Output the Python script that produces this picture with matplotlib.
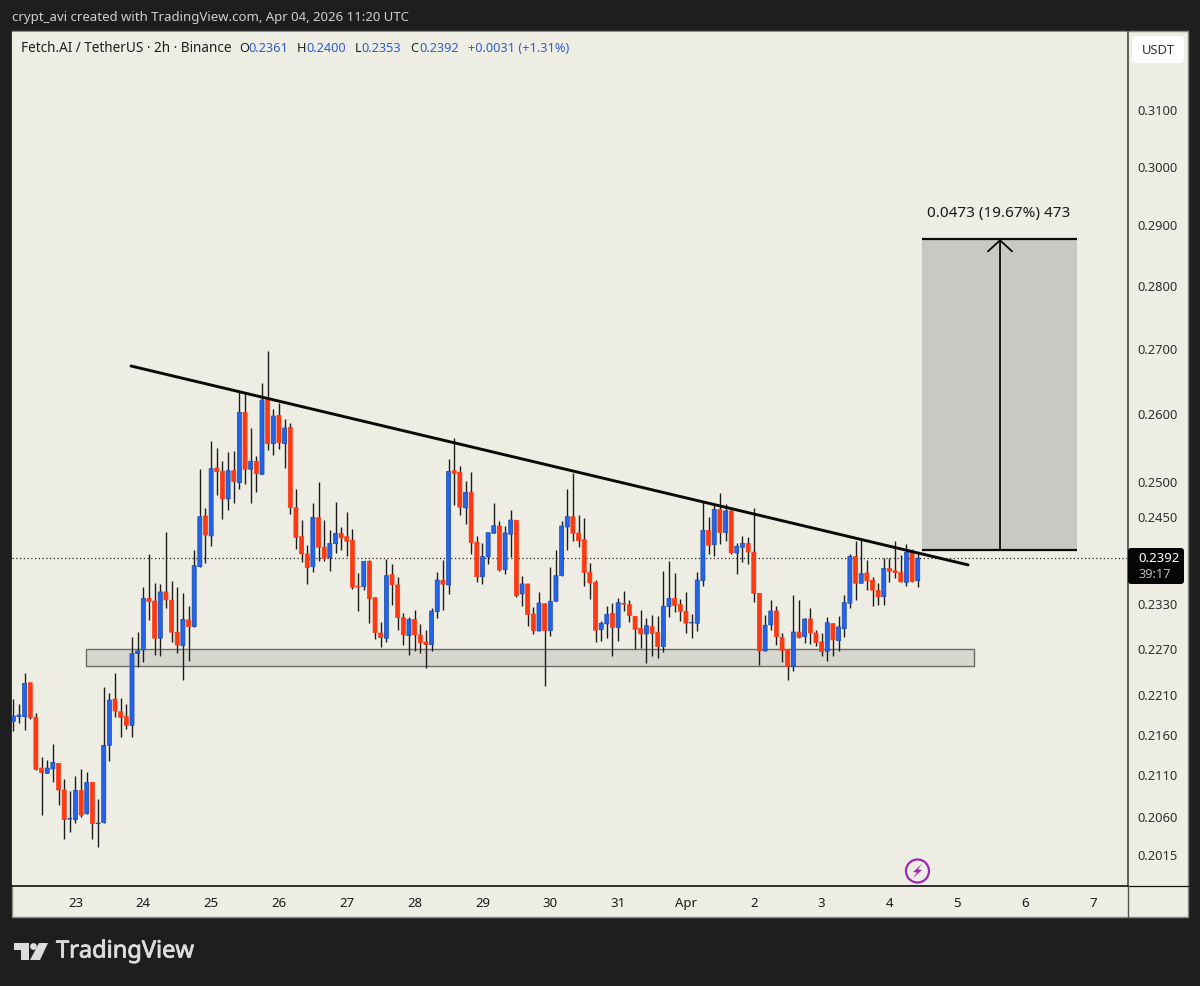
import matplotlib
matplotlib.use("Agg")
import matplotlib.pyplot as plt
import matplotlib.patheffects as pe
from matplotlib.patches import Rectangle, Circle, Polygon, FancyBboxPatch

# FET/USDT 2h candles
opens = [.21767,.21825,.21825,.22258,.21817,.21187,.21121,.21175,.21244,.20919,.20570,.20563,.20915,.20634,.21012,.20515,
         .20527,.21467,.22050,.21888,.21825,.21716,.22635,.22684,.23372,.23336,.22838,.23458,.23349,.22917,.22740,.23081,
         .22992,.23803,.24512,.24230,.25202,.25154,.24754,.25163,.24989,.26027,.25183,.25300,.25109,.26213,.25558,.25982,
         .25558,.25802,.24630,.24220,.23979,.23803,.24488,.24072,.23924,.24122,.24268,.24220,.24170,.23536,.23531,.23878,
         .23381,.22908,.22838,.23694,.23553,.23112,.22872,.23090,.22882,.22789,.22754,.23192,.23617,.23553,.25163,.25140,
         .24626,.24850,.24142,.23666,.23937,.24268,.24370,.23762,.24254,.24451,.23431,.23567,.23161,.22935,.23299,.22939,
         .23332,.23680,.24356,.24502,.24272,.24178,.23726,.23590,.22952,.23028,.23171,.22979,.23305,.23286,.23130,.22970,
         .22895,.22992,.22912,.22728,.23260,.23372,.23286,.23197,.23041,.23037,.23611,.24310,.24108,.24607,.24276,.24583,
         .23993,.24072,.24127,.24006,.23440,.22671,.23014,.23201,.22851,.22684,.22466,.22921,.22859,.23094,.22908,.22789,
         .22667,.23032,.22806,.22965,.23305,.23947,.23576,.23717,.23617,.23476,.23394,.23781,.23748,.23726,.23590,.24011,
         .2361]
highs = [.22046,.21986,.22380,.22258,.21876,.21326,.21285,.21483,.21244,.21048,.20911,.21089,.21171,.21138,.21012,.20814,
         .22207,.22130,.22380,.22063,.21983,.22851,.22925,.23530,.23979,.23584,.23563,.24286,.23607,.23530,.23448,.23268,
         .24034,.25183,.24621,.25594,.25499,.25309,.25436,.25455,.26354,.26324,.25792,.25377,.26467,.26971,.26077,.26163,
         .25931,.25862,.24893,.24455,.24100,.24693,.24995,.24455,.24310,.24707,.24352,.24564,.24324,.23721,.23878,.23896,
         .23381,.23058,.23914,.23841,.23658,.23179,.23117,.23211,.23028,.22948,.23246,.23731,.23896,.25329,.25638,.25231,
         .25013,.25140,.24230,.24136,.24276,.24693,.24437,.24374,.24597,.24451,.23680,.23567,.23251,.23454,.23305,.23795,
         .24034,.24441,.24893,.25125,.24526,.24479,.23850,.23625,.23063,.23272,.23309,.23372,.23471,.23349,.23130,.23215,
         .23108,.23144,.23139,.23744,.23878,.23713,.23367,.23454,.23157,.23726,.24730,.24493,.24668,.24835,.24683,.24621,
         .24127,.24234,.24220,.24621,.23440,.23148,.23349,.23268,.22904,.22684,.23421,.23349,.23112,.23242,.22948,.22904,
         .23117,.23045,.23135,.23421,.23979,.24164,.24192,.23896,.23666,.23576,.23924,.23928,.24160,.23968,.24118,.24044,
         .2400]
lows = [.21642,.21749,.21658,.21792,.21162,.20618,.21121,.21019,.20738,.20337,.20420,.20520,.20598,.20634,.20337,.20243,
        .20527,.21273,.21825,.21567,.21667,.21567,.22458,.22527,.23081,.22618,.22609,.23246,.22793,.22641,.22293,.22544,
        .22992,.23803,.23859,.24090,.24811,.24473,.24597,.24702,.24893,.24970,.24702,.24854,.25109,.25465,.25396,.25475,
        .25198,.24536,.24048,.23873,.23563,.23735,.23886,.23886,.23748,.23996,.24034,.23951,.23503,.23206,.23485,.23045,
        .22824,.22728,.22785,.23282,.22948,.22745,.22618,.22675,.22641,.22445,.22675,.23112,.23215,.23427,.24673,.24526,
        .24395,.23979,.23598,.23563,.23837,.24268,.23748,.23703,.23933,.23394,.23272,.23001,.22895,.22935,.22220,.22872,
        .23332,.23680,.24034,.24164,.24080,.23539,.23367,.22793,.22802,.22846,.22609,.22802,.23206,.23050,.22693,.22706,
        .22518,.22609,.22575,.22654,.23125,.23184,.23063,.22904,.22842,.22939,.23539,.23979,.23951,.24118,.24164,.23979,
        .23699,.23873,.23841,.23326,.22484,.22671,.22948,.22749,.22531,.22293,.22414,.22846,.22780,.22763,.22736,.22606,
        .22536,.22609,.22675,.22859,.23246,.23349,.23576,.23485,.23268,.23282,.23282,.23598,.23653,.23594,.23539,.23598,
        .2353]
closes = [.21834,.21847,.22251,.21812,.21171,.21129,.21187,.21257,.20919,.20563,.20579,.20915,.20618,.21012,.20515,.20523,
          .21467,.22037,.21897,.21817,.21716,.22635,.22671,.23372,.23326,.22838,.23458,.23349,.22917,.22749,.23090,.22992,
          .23817,.24502,.24244,.25192,.25148,.24754,.25163,.25003,.26027,.25183,.25300,.25119,.26213,.25558,.25971,.25573,
          .25792,.24630,.24206,.23979,.23790,.24493,.24072,.23920,.24127,.24268,.24202,.24156,.23522,.23526,.23878,.23367,
          .22912,.22846,.23680,.23553,.23112,.22882,.23090,.22882,.22780,.22754,.23201,.23621,.23563,.25154,.25119,.24636,
          .24850,.24136,.23666,.23941,.24276,.24374,.23758,.24272,.24455,.23407,.23567,.23152,.22939,.23309,.22939,.23332,
          .23680,.24370,.24502,.24268,.24164,.23726,.23580,.22944,.23037,.23157,.22979,.23313,.23291,.23139,.22957,.22895,
          .23005,.22904,.22728,.23265,.23372,.23272,.23197,.23037,.23050,.23621,.24310,.24100,.24607,.24276,.24583,.23993,
          .24086,.24127,.24006,.23440,.22671,.23010,.23201,.22859,.22675,.22466,.22921,.22846,.23094,.22908,.22780,.22662,
          .23045,.22815,.22988,.23313,.23947,.23576,.23708,.23611,.23481,.23390,.23781,.23740,.23721,.23594,.24002,.23598,
          .2392]

price_ticks = [.3100,.3000,.2900,.2800,.2700,.2600,.2500,.2450,.2330,.2270,.2210,.2160,.2110,.2060,.2015]
price_tick_labels = ["0.3100","0.3000","0.2900","0.2800","0.2700","0.2600","0.2500","0.2450",
                     "0.2330","0.2270","0.2210","0.2160","0.2110","0.2060","0.2015"]
day_ticks = [11,23,35,47,59,71,83,95,107,119,131,143,155,167,179,191]
day_labels = ["23","24","25","26","27","28","29","30","31","Apr","2","3","4","5","6","7"]

last_price = .2392
trend_x = [20.82, 168.9]
trend_y = [.26733, .23828]
zone_x = [12.86, 169.96]
zone_y = [.22479, .22697]
measure_x = [160.76, 188.18]
measure_y = [.2404, .2877]
measure_mid = 174.56

BG = "#1e1e1e"
PANEL = "#edede4"
BLUE = "#2563e8"
BLUE_EDGE = "#1b4aa8"
RED = "#fb3a14"
WICK = "#1c1c1c"
FONT = "Noto Sans"
plt.rcParams["font.family"] = FONT

W, H = 1200, 986
fig = plt.figure(figsize=(W/100, H/100), dpi=100, facecolor=BG)

# pixel-space layer behind the chart for the panel frame
back = fig.add_axes([0, 0, 1, 1], zorder=0)
back.set_xlim(0, W)
back.set_ylim(H, 0)
back.axis("off")
back.add_patch(Rectangle((12, 31), 1176, 886, fc=PANEL, ec="#8a8a82", lw=1))

ax = fig.add_axes([12/W, 1-886/H, (1128-12)/W, (886-32)/H], zorder=1)
ax.set_facecolor(PANEL)
ax.set_yscale("log")
ax.set_xlim(-0.23, 197.2)
ax.set_ylim(.19789, .3243)

# zone and measure box under the candles
ax.fill_between(zone_x, zone_y[0], zone_y[1], fc="#d7d7d0", ec="#6c6c66", lw=1, zorder=1)
ax.fill_between(measure_x, measure_y[0], measure_y[1], fc="#c8c9c3", lw=0, zorder=1)

xs = list(range(len(opens)))
for i in xs:
    up = closes[i] >= opens[i]
    ax.vlines(i, lows[i], highs[i], color=WICK, lw=1.0, zorder=2)
    bottom = min(opens[i], closes[i])
    ax.bar(i, abs(closes[i]-opens[i]), bottom=bottom, width=0.72,
           color=BLUE if up else RED, edgecolor=BLUE_EDGE if up else RED, lw=0.5, zorder=3, snap=False)

ax.axhline(last_price, color="#222222", lw=0.9, ls=(0, (1, 2)), zorder=2)
ax.plot(trend_x, trend_y, color="#0a0a0a", lw=2.1, zorder=4, solid_capstyle="round")

ax.hlines(measure_y, measure_x[0], measure_x[1], color="#0a0a0a", lw=1.6, zorder=4)
ax.annotate("", xy=(measure_mid, measure_y[1]), xytext=(measure_mid, measure_y[0]), zorder=4,
            arrowprops=dict(arrowstyle="->,head_length=0.57,head_width=0.62", mutation_scale=14,
                            color="#0a0a0a", lw=1.3, shrinkA=0, shrinkB=0))

ax.yaxis.tick_right()
ax.set_yticks(price_ticks, price_tick_labels)
ax.minorticks_off()
ax.set_xticks(day_ticks, day_labels)
ax.tick_params(axis="y", length=0, pad=7, labelsize=9.3, labelcolor="#2f2f2f")
ax.tick_params(axis="x", length=0, pad=8, labelsize=9.5, labelcolor="#1a1a1a")
for lab in ax.get_xticklabels():
    if lab.get_text() == "Apr":
        lab.set_fontweight("bold")
for side in ["top", "left"]:
    ax.spines[side].set_visible(False)
ax.spines["right"].set_color("#55554f")
ax.spines["right"].set_linewidth(1.3)
ax.spines["bottom"].set_color("#111111")
ax.spines["bottom"].set_linewidth(1.2)

# pixel-space layer on top: texts, labels, logo
top = fig.add_axes([0, 0, 1, 1], zorder=2)
top.set_xlim(0, W)
top.set_ylim(H, 0)
top.axis("off")

top.plot([1128, 1188], [886, 886], color="#111111", lw=0.9)
top.plot([1128, 1128], [886, 917], color="#55554f", lw=1.0)

top.text(12, 18, "crypt_avi created with TradingView.com, Apr 04, 2026 11:20 UTC",
         color="#cfcfcf", fontsize=9.5, va="center")

legend_items = [(21, "Fetch.AI / TetherUS · 2h · Binance", "#1f1f1f", 9.75),
                (239, "O", "#1f1f1f", 9.2), (248, "0.2361", "#2f5fc4", 9.2),
                (296.5, "H", "#1f1f1f", 9.2), (306, "0.2400", "#2f5fc4", 9.2),
                (355, "L", "#1f1f1f", 9.2), (361, "0.2353", "#2f5fc4", 9.2),
                (410, "C", "#1f1f1f", 9.2), (419, "0.2392", "#2f5fc4", 9.2),
                (467.5, "+0.0031 (+1.31%)", "#2f5fc4", 9.2)]
for x, s, c, fs in legend_items:
    top.text(x, 48.5, s, color=c, fontsize=fs, va="center")

top.text(998.5, 213, "0.0473 (19.67%) 473", color="#1a1a1a", fontsize=11, ha="center", va="center")

top.add_patch(FancyBboxPatch((1135, 39), 46, 21, boxstyle="round,pad=3,rounding_size=4", fc="white", ec="none"))
top.text(1158, 50, "USDT", color="#333333", fontsize=9.3, ha="center", va="center")

top.add_patch(FancyBboxPatch((1130, 550), 52, 32, boxstyle="round,pad=2,rounding_size=3", fc="#050505", ec="none"))
top.text(1138, 558.5, "0.2392", color="white", fontsize=9.5, fontweight="bold", va="center")
top.text(1138, 575, "39:17", color="#b8b8b8", fontsize=9.2, va="center")

# lightning badge
top.add_patch(Circle((917.5, 871), 11.5, fc="none", ec="#9c27b0", lw=1.6))
top.add_patch(Polygon([(922, 864), (913, 872), (917, 872.5), (913, 878), (922, 870), (918, 869.5)],
                      closed=True, fc="#9c27b0", ec="none"))

# TradingView logo
LOGO = "#dcdcdc"
top.add_patch(Polygon([(14, 943), (29, 943), (29, 960), (21, 960), (21, 950), (14, 950)], closed=True, fc=LOGO, ec="none"))
top.add_patch(Circle((33.5, 946.5), 3.4, fc=LOGO, ec="none"))
top.add_patch(Polygon([(39, 943), (48, 943), (40, 960), (30, 960)], closed=True, fc=LOGO, ec="none"))
top.text(56, 951.5, "TradingView", color=LOGO, fontsize=17, va="center",
         path_effects=[pe.withStroke(linewidth=0.6, foreground=LOGO)])

fig.savefig("out.png", dpi=100, facecolor=BG)
